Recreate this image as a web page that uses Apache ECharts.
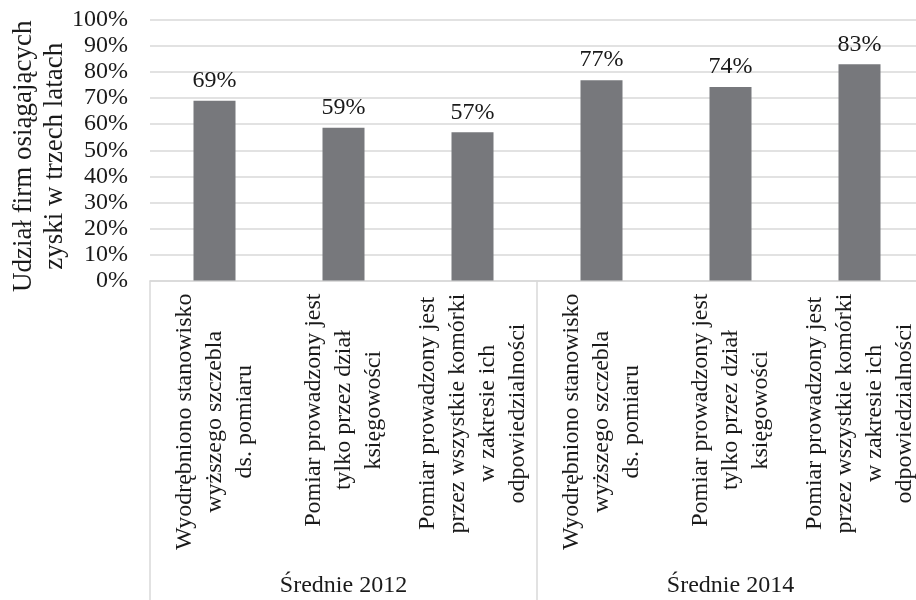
<!DOCTYPE html>
<html>
<head>
<meta charset="utf-8">
<script src="https://cdn.jsdelivr.net/npm/echarts@6/dist/echarts.min.js"></script>
<style>html,body{margin:0;padding:0;background:#fff;}#c{width:916px;height:600px;}</style>
</head>
<body>
<div id="c"></div>
<script>
const categories = [
  "Wyodrębniono stanowisko\nwyższego szczebla\nds. pomiaru",
  "Pomiar prowadzony jest\ntylko przez dział\nksięgowości",
  "Pomiar prowadzony jest\nprzez wszystkie komórki\nw zakresie ich\nodpowiedzialności",
  "Wyodrębniono stanowisko\nwyższego szczebla\nds. pomiaru",
  "Pomiar prowadzony jest\ntylko przez dział\nksięgowości",
  "Pomiar prowadzony jest\nprzez wszystkie komórki\nw zakresie ich\nodpowiedzialności"
];
const groups = ["Średnie 2012", "Średnie 2014"];
const values = [69, 58.6, 56.9, 76.9, 74.3, 83];
const yTicks = [0, 10, 20, 30, 40, 50, 60, 70, 80, 90, 100];
const yTitle = "Udział firm osiągających\nzyski w trzech latach";

const FONT = "'Liberation Serif', 'Times New Roman', serif";
const TXT = '#1a1a1a';
const GRID = '#d9d9d9';

const chart = echarts.init(document.getElementById('c'), null, {renderer: 'canvas'});
chart.setOption({
  backgroundColor: '#fff',
  animation: false,
  textStyle: {fontFamily: FONT},
  grid: {left: 150, right: -8, top: 20, height: 260.5, containLabel: false, outerBoundsMode: 'none'},
  xAxis: [
    {
      type: 'category',
      data: categories,
      position: 'bottom',
      axisLine: {show: true, lineStyle: {color: GRID, width: 1.5}},
      axisTick: {show: false},
      axisLabel: {
        interval: 0,
        rotate: 90,
        margin: 13,
        color: TXT,
        fontFamily: FONT,
        fontSize: 24,
        lineHeight: 30,
        formatter: function (v) {
          return v.split('\n').map(function (l) { return '{c|' + l + '}'; }).join('\n');
        },
        rich: {c: {align: 'center', fontFamily: FONT, fontSize: 24, lineHeight: 30, color: TXT}}
      }
    },
    {
      type: 'category',
      data: groups,
      position: 'bottom',
      axisLine: {show: false},
      axisTick: {show: true, length: 330, interval: 0, lineStyle: {color: GRID, width: 1.5}},
      axisLabel: {interval: 0, margin: 293, color: TXT, fontFamily: FONT, fontSize: 24}
    }
  ],
  yAxis: {
    type: 'value',
    min: yTicks[0],
    max: yTicks[yTicks.length - 1],
    interval: 10,
    axisLine: {show: false},
    axisTick: {show: false},
    splitLine: {show: true, lineStyle: {color: GRID, width: 1.5}},
    axisLabel: {margin: 22, color: TXT, fontFamily: FONT, fontSize: 24, formatter: '{value}%'},
    name: yTitle,
    nameLocation: 'middle',
    nameRotate: 90,
    nameGap: 80,
    nameMoveOverlap: false,
    nameTextStyle: {color: TXT, fontFamily: FONT, fontSize: 27, lineHeight: 31, align: 'center', padding: [0, 12, 0, 0]}
  },
  series: [{
    type: 'bar',
    xAxisIndex: 0,
    data: values,
    barWidth: 42,
    itemStyle: {color: '#77787c'},
    label: {
      show: true,
      position: 'top',
      distance: 8,
      color: TXT,
      fontFamily: FONT,
      fontSize: 24,
      formatter: function (p) { return Math.round(p.value) + '%'; }
    }
  }]
});
</script>
</body>
</html>
